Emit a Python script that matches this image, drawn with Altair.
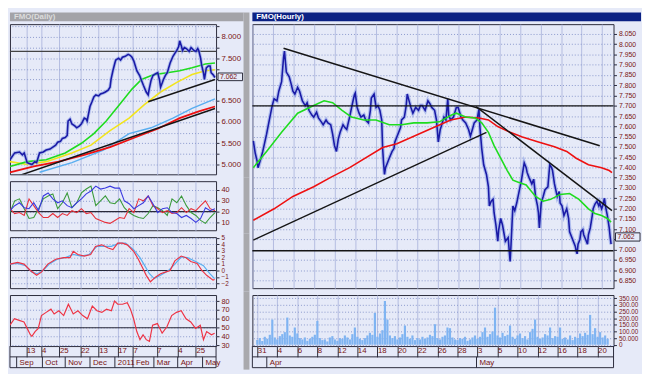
import json
import altair as alt
import pandas as pd

# ================= hourly window (right) =================
r_day = [0.09,0.28,0.46,0.55,0.83,1.01,1.38,1.65,1.93,2.11,
         2.39,2.57,2.84,3.03,3.12,3.30,3.58,3.76,3.94,4.13,
         4.40,4.59,4.86,5.14,5.32,5.50,5.78,5.96,6.24,6.42,
         6.70,6.88,7.16,7.34,7.61,7.80,7.98,8.17,8.35,8.53,
         8.81,8.99,9.17,9.45,9.72,9.91,10.00,10.18,10.37,10.55,
         10.83,11.01,11.28,11.47,11.56,11.83,12.02,12.20,12.39,12.57,
         12.66,12.75,12.84,12.94,13.12,13.30,13.58,13.76,13.85,14.04,
         14.22,14.40,14.50,14.77,14.95,15.05,15.23,15.41,15.60,15.87,
         16.15,16.33,16.51,16.79,17.06,17.25,17.43,17.71,17.89,18.07,
         18.26,18.35,18.62,18.81,18.99,19.08,19.27,19.54,19.82,20.00,
         20.28,20.46,20.73,21.01,21.19,21.38,21.56,21.83,22.02,22.11,
         22.29,22.48,22.75,22.94,23.03,23.21,23.39,23.49,23.67,23.85,
         23.94,24.13,24.31,24.59,24.86,24.95,25.05,25.14,25.23,25.32,
         25.50,25.69,25.96,26.15,26.42,26.61,26.70,26.88,27.16,27.34,
         27.52,27.71,27.80,27.89,27.98,28.07,28.26,28.44,28.72,28.90,
         29.08,29.17,29.36,29.63,29.82,29.91,30.09,30.28,30.55,30.73,
         30.83,31.01,31.19,31.38,31.47,31.56,31.65,31.83,31.93,32.11,
         32.20,32.39,32.57,32.66,32.84,33.03,33.12,33.30,33.49,33.67,
         33.76,33.94,34.04,34.22,34.31,34.50,34.68,34.77,34.86]
r_close = [7.529,7.469,7.431,7.399,7.445,7.478,7.562,7.631,7.701,7.734,
           7.724,7.771,7.817,7.934,7.966,7.864,7.841,7.808,7.771,7.757,
           7.790,7.771,7.724,7.701,7.715,7.678,7.655,7.645,7.669,7.641,
           7.622,7.608,7.631,7.617,7.608,7.562,7.506,7.478,7.538,7.571,
           7.608,7.594,7.585,7.645,7.710,7.752,7.762,7.692,7.664,7.645,
           7.655,7.631,7.617,7.678,7.738,7.757,7.692,7.701,7.678,7.631,
           7.492,7.422,7.366,7.399,7.422,7.445,7.478,7.492,7.524,7.548,
           7.571,7.594,7.631,7.645,7.701,7.757,7.724,7.692,7.664,7.692,
           7.678,7.701,7.701,7.678,7.724,7.710,7.692,7.678,7.631,7.524,
           7.585,7.599,7.645,7.631,7.734,7.655,7.631,7.645,7.692,7.692,
           7.645,7.631,7.617,7.585,7.552,7.585,7.617,7.631,7.683,7.599,
           7.492,7.413,7.366,7.306,7.213,7.236,7.245,7.180,7.120,7.041,
           7.097,7.152,7.120,7.041,7.059,7.003,6.943,7.027,7.120,7.213,
           7.190,7.227,7.292,7.338,7.422,7.399,7.376,7.352,7.320,7.343,
           7.259,7.213,7.180,7.106,7.166,7.227,7.259,7.292,7.306,7.413,
           7.399,7.385,7.320,7.259,7.283,7.227,7.213,7.166,7.199,7.152,
           7.087,7.064,7.041,7.017,6.994,6.980,7.027,7.050,7.087,7.097,
           7.073,7.050,7.027,7.073,7.106,7.166,7.199,7.222,7.236,7.213,
           7.227,7.199,7.213,7.250,7.213,7.166,7.106,7.064,7.027]
r_green_day = [0.09,1.38,2.84,4.40,5.96,6.97,7.80,8.72,9.63,10.83,
               12.02,13.30,14.50,15.69,16.97,18.17,19.36,19.82,20.73,21.65,
               22.29,22.94,23.49,24.13,24.77,25.32,25.78,26.61,27.52,28.26,
               28.99,29.91,30.83,31.74,32.66,33.30,33.94,34.50,34.86]
r_green = [7.399,7.478,7.571,7.664,7.701,7.724,7.715,7.678,7.645,7.631,
           7.631,7.608,7.608,7.617,7.617,7.622,7.655,7.664,7.645,7.641,
           7.617,7.571,7.506,7.445,7.385,7.338,7.329,7.315,7.259,7.236,
           7.245,7.269,7.273,7.245,7.199,7.176,7.166,7.152,7.134]
r_red_day = [0.09,2.11,3.94,5.96,7.61,9.45,12.66,14.04,16.79,19.27,20.73,22.02,
             22.94,23.85,25.05,26.24,27.80,29.36,30.55,31.47,32.66,33.94,34.68,34.95]
r_red = [7.143,7.199,7.259,7.306,7.352,7.399,7.497,7.515,7.576,7.631,7.645,7.641,
         7.631,7.599,7.571,7.548,7.524,7.501,7.478,7.445,7.413,7.399,7.385,7.375]
r_trend_id = ["a", "a", "b", "b", "c", "c"]
r_trend_day = [3.03, 33.76, 21.74, 34.95, 0.09, 22.75]
r_trend_val = [7.980, 7.506, 7.696, 7.190, 7.047, 7.571]
r_levels = [7.700, 6.995]
r_last = [7.062]
r_vol = [35, 50, 28, 60, 45, 75, 190, 55, 40, 65,
         80, 95, 205, 70, 60, 130, 85, 50, 40, 55,
         30, 45, 60, 75, 180, 50, 35, 40, 25, 55,
         65, 40, 30, 50, 45, 70, 55, 40, 80, 130,
         60, 45, 35, 50, 70, 90, 75, 240, 60, 85,
         110, 330, 190, 70, 50, 65, 40, 55, 80, 145,
         60, 45, 70, 35, 50, 40, 60, 45, 55, 75,
         65, 155, 50, 40, 60, 70, 130, 125, 55, 40,
         35, 50, 45, 60, 30, 40, 55, 70, 45, 60,
         95, 130, 60, 80, 100, 280, 70, 55, 90, 65,
         75, 145, 60, 45, 70, 85, 50, 65, 40, 95,
         120, 190, 60, 45, 55, 80, 70, 130, 50, 65,
         60, 130, 45, 55, 40, 70, 35, 60, 50, 85,
         65, 90, 75, 225, 80, 125, 60, 95, 55, 70,
         45]
r_yticks = [6.85, 6.90, 6.95, 7.00, 7.05, 7.10, 7.15, 7.20, 7.25, 7.30, 7.35, 7.40, 7.45,
            7.50, 7.55, 7.60, 7.65, 7.70, 7.75, 7.80, 7.85, 7.90, 7.95, 8.00, 8.05]
r_xticks = [0, 2, 4, 6, 8, 10, 12, 14, 16, 18, 20, 22, 24, 26, 28, 30, 32, 34]
r_xlabels = ["31", "4", "6", "8", "12", "14", "18", "20", "22", "26", "28",
             "3", "5", "10", "12", "16", "18", "20"]
r_vticks = [0, 8, 16, 24, 32, 40, 48, 56, 64, 72, 80, 88, 96, 104, 112, 120, 128, 136]
r_vol_yticks = [0, 50, 100, 150, 200, 250, 300, 350]
r_months = ["Apr", "May"]
r_month_bar = [3.8, 87.6]

# ================= daily window (left) =================
l_day = [0,4.3,8.7,11.3,13.0,15.7,20.0,22.6,24.3,27.0,
         30.4,33.0,36.5,39.1,41.7,43.5,46.1,47.8,50.4,52.2,
         53.0,54.8,56.5,59.1,60.9,63.5,65.2,67.8,69.6,70.4,
         73.0,74.8,76.5,78.3,80.9,82.6,85.2,87.0,89.6,91.3,
         92.2,93.9,95.7,96.5,99.1,100.9,102.6,105.2,107.8,109.6,
         111.3,113.0,115.7,118.3,120.0,121.7,124.3,126.1,127.0,128.7,
         130.4,133.0,134.8,136.5,137.4,139.1,140.0,141.7,143.5,146.1,
         148.7,150.4,152.2,153.9,154.8,156.5,157.4,159.1,160.9,163.5,
         165.2,166.1,167.8,169.6,171.3,172.2,173.9,174.8,176.5,177.4,
         179.1,180.9,182.6,183.5,185.2,187.0]
l_close = [5.114,5.273,5.295,5.227,5.273,5.045,5.000,5.068,5.045,5.273,
           5.295,5.341,5.364,5.409,5.455,5.523,5.545,5.614,5.636,5.682,
           6.023,6.068,5.955,5.909,5.864,5.909,5.955,6.091,6.068,6.023,
           6.364,6.477,6.591,6.636,6.614,6.659,6.682,6.705,6.750,6.818,
           7.000,7.205,7.386,7.455,7.500,7.455,7.523,7.545,7.591,7.568,
           7.523,7.432,7.205,7.091,6.977,6.864,6.705,6.636,6.773,6.977,
           7.091,7.136,7.159,6.977,6.818,6.932,7.000,7.091,7.159,7.386,
           7.545,7.614,7.682,7.773,7.909,7.773,7.682,7.750,7.727,7.659,
           7.750,7.727,7.682,7.659,7.727,7.682,7.500,7.341,7.159,7.000,
           7.273,7.318,7.318,7.159,7.114,7.045]
l_green_day = [0,15.7,33.0,50.4,65.2,76.5,87.8,100.0,111.3,120.0,131.3,143.5,154.8,166.1,178.3,187.0]
l_green = [4.955,5.068,5.114,5.273,5.500,5.727,6.023,6.409,6.773,7.000,7.114,7.159,7.205,7.273,7.364,7.386]
l_yellow_day = [0,15.7,33.0,56.5,73.9,91.3,108.7,122.6,137.4,152.2,166.1,178.3,187.0]
l_yellow = [5.068,5.000,5.068,5.273,5.455,5.795,6.091,6.409,6.705,6.932,7.114,7.205,7.227]
l_red_day = [0,21.7,44.3,67.8,91.3,113.9,134.8,154.8,172.2,187.0]
l_red = [4.818,4.955,5.068,5.227,5.409,5.636,5.841,6.091,6.250,6.364]
l_lblue_day = [27.0,56.5,85.2,108.7,128.7,148.7,166.1,187.0]
l_lblue = [4.818,5.045,5.341,5.727,5.864,6.091,6.318,6.545]
l_trend_id = ["a", "a", "b", "b"]
l_trend_day = [7.0, 187.0, 126.1, 187.0]
l_trend_val = [4.727, 6.318, 6.477, 7.000]
l_level = [7.66]
l_last = [7.062]
l_yticks = [5.0, 5.25, 5.5, 5.75, 6.0, 6.25, 6.5, 6.75, 7.0, 7.25, 7.5, 7.75, 8.0, 8.25]
l_xticks = [14.8, 28.7, 45.2, 64.3, 80.9, 98.3, 112.2, 133.9, 153.0, 169.6]
l_xlabels = ["13", "4", "25", "22", "13", "17", "7", "7", "4", "25"]
l_months = ["Sep", "Oct", "Nov", "Dec", "2011", "Feb", "Mar", "Apr", "May"]
l_month_day = [6.1, 29.6, 50.4, 73.0, 95.7, 112.2, 131.3, 153.0, 175.7]

osc_day = [0,4.3,8.7,13.0,17.4,21.7,26.1,30.4,34.8,39.1,43.5,47.8,52.2,56.5,60.9,65.2,
           69.6,73.9,78.3,82.6,87.0,91.3,95.7,100.0,104.3,108.7,113.0,117.4,121.7,126.1,
           130.4,134.8,139.1,143.5,147.8,152.2,156.5,160.9,165.2,169.6,173.9,178.3,182.6,187.0]
dmi_blue = [20.9,25.5,28.2,23.6,22.7,28.2,20.9,34.5,37.3,31.8,28.2,30.0,25.5,23.6,28.2,31.8,
            36.4,39.1,43.6,40.9,41.8,43.6,41.8,41.8,30.0,27.3,22.7,25.5,28.2,34.5,
            27.3,19.1,22.7,23.6,19.1,18.2,14.5,16.4,13.6,10.0,13.6,23.6,20.9,22.7]
dmi_green = [19.1,30.0,31.8,22.7,13.6,14.5,22.7,31.8,34.5,36.4,22.7,28.2,37.3,23.6,28.2,37.3,
             40.9,43.6,25.5,30.0,34.5,28.2,27.3,31.8,23.6,19.1,16.4,14.5,13.6,18.2,
             25.5,23.6,20.9,16.4,31.8,28.2,34.5,25.5,19.1,16.4,11.8,9.1,14.5,19.1]
dmi_red = [22.7,18.2,19.1,16.4,31.8,25.5,19.1,14.5,14.5,18.2,14.5,18.2,16.4,20.9,19.1,22.7,
           18.2,19.1,13.6,11.8,10.0,9.1,11.8,14.5,13.6,22.7,19.1,31.8,30.0,34.5,
           25.5,22.7,19.1,20.9,18.2,19.1,23.6,19.1,22.7,20.9,25.5,30.0,22.7,20.9]
macd_day = [0,7.0,12.8,18.6,24.3,28.7,34.5,41.7,49.0,54.8,57.7,62.0,67.8,73.6,78.0,83.8,
            89.6,93.9,98.3,102.6,107.0,112.8,117.1,121.4,124.3,128.1,133.0,137.4,141.7,146.1,
            150.4,156.2,160.6,164.9,170.7,175.1,179.4,185.2,186.7]
macd = [0.98,1.23,0.98,0,-0.74,-0.25,0.98,1.72,1.96,1.96,2.94,2.45,2.21,2.45,3.68,3.92,
        3.43,3.19,4.17,4.17,3.92,2.94,1.72,0.25,-0.74,-1.72,-0.98,-0.49,-0.25,0,
        1.47,2.21,1.96,1.37,1.08,0,-0.74,-1.47,-1.37]
sig_day = [0,7.0,14.2,20.0,24.9,30.1,35.9,43.2,50.4,57.7,64.9,72.2,79.4,86.7,92.5,99.7,
           105.5,112.8,118.6,122.9,127.2,131.6,137.4,144.6,150.4,156.2,162.0,169.3,176.5,182.3,186.7]
macd_sig = [0.98,1.08,0.74,-0.25,-0.49,0,0.98,1.72,1.96,2.45,2.21,2.45,3.68,3.68,3.68,4.17,
            4.17,3.19,1.96,0.74,-0.49,-1.23,-0.74,0,0.98,2.06,1.96,1.37,0.74,-0.49,-1.23]
rsi_day = [0,4.1,8.4,12.8,15.7,18.6,20.0,22.9,25.8,28.7,33.0,37.4,40.3,44.6,49.0,53.3,
           57.7,62.0,66.4,70.7,75.1,79.4,83.8,88.1,92.5,95.4,98.3,102.6,107.0,109.9,
           112.8,115.7,118.6,121.4,124.3,127.2,130.1,134.5,138.8,143.2,147.5,151.9,156.2,
           160.6,164.9,169.3,173.6,176.5,179.4,183.8,186.7]
rsi = [52.9,60.1,58.3,56.5,49.3,42.1,40.3,45.7,49.3,63.7,67.3,70.9,65.5,69.1,63.7,76.4,
       65.5,69.1,63.7,60.1,74.5,69.1,67.3,70.9,69.1,80.0,76.4,76.4,78.2,70.9,
       60.1,45.7,36.6,42.1,36.6,34.8,52.9,54.7,43.9,51.1,63.7,67.3,69.1,60.1,56.5,
       49.3,52.9,36.6,45.7,42.1,43.9]

# ================= styles =================
BG = "#e6eaf8"
FRAME = "#2a2a3a"
GRIDX = "#b4bce0"
GRIDY = "#8a98cc"
TXT = "#7a1414"
FONT = "Liberation Sans"
BLUE = "#1a1aa6"
PALE = "#8a9ee8"
GREEN = "#1fdc1f"
RED = "#ee1111"
YELLOW = "#f2e41c"
LBLUE = "#58aef0"
BLACK = "#151515"
GREY = "#a9a9ad"

LW, RW = 210, 368
LHP, LHA, LHM, LHR = 153, 50, 52, 52
RHP, RHV = 269, 52
GAP = 7
ONE = pd.DataFrame({"k": [0]})


def xaxis(ticks, labels=None):
    if labels is None:
        return alt.Axis(values=ticks, grid=True, gridColor=GRIDX, labels=False,
                        ticks=False, domain=False, title=None)
    expr = f"' ' + {json.dumps(labels)}[indexof({json.dumps(ticks)}, datum.value)]"
    return alt.Axis(values=ticks, grid=True, gridColor=GRIDX, labelExpr=expr,
                    ticks=True, tickSize=11, tickColor=FRAME, labelAlign="left",
                    labelBaseline="top", labelPadding=-10, labelColor=TXT,
                    labelFont=FONT, labelFontSize=8, labelOverlap=False,
                    labelFlush=False, domain=False, title=None)


def yaxis(ticks, expr=None, fmt=".3f", size=8):
    kw = dict(values=ticks, orient="right", grid=True, gridColor=GRIDY, gridDash=[1, 2],
              tickSize=3, tickColor=FRAME, labelColor=TXT, labelFont=FONT,
              labelFontSize=size, labelPadding=2, domain=False, title=None,
              labelOverlap=False, labelFlush=False)
    if expr:
        kw["labelExpr"] = expr
    else:
        kw["format"] = fmt
    return alt.Axis(**kw)


def enc_x(field, sc, ax):
    return alt.X(f"{field}:Q", scale=sc, axis=ax)


def enc_y(field, sc, ax):
    return alt.Y(f"{field}:Q", scale=sc, axis=ax)


def line(frame, xf, yf, X, Y, color, w, opacity=1.0):
    return alt.Chart(frame).mark_line(color=color, strokeWidth=w, opacity=opacity,
                                      clip=True).encode(x=enc_x(xf, *X), y=enc_y(yf, *Y))


def title_bar(W, text, fill, color):
    bar = alt.Chart(ONE).mark_rect(color=fill).encode(
        x=alt.value(0), x2=alt.value(W), y=alt.value(-12), y2=alt.value(-3))
    txt = alt.Chart(pd.DataFrame({"t": [text]})).mark_text(
        align="left", baseline="middle", color=color, fontSize=8, fontWeight="bold",
        font=FONT).encode(x=alt.value(4), y=alt.value(-7.5), text="t:N")
    return [bar, txt]


def strip(y1, y2):
    return alt.Chart(ONE).mark_rect(color=GREY).encode(
        x=alt.value(LW + 28), x2=alt.value(LW + 34), y=alt.value(y1), y2=alt.value(y2))


def price_box(vals, W, Y, half):
    frame = pd.DataFrame({"v": vals})
    box = alt.Chart(frame).transform_calculate(
        top=f"datum.v + {half}", bot=f"datum.v - {half}").mark_rect(
        fill=BG, stroke=FRAME, strokeWidth=1).encode(
        x=alt.value(W + 2), x2=alt.value(W + 27), y=enc_y("top", *Y), y2="bot:Q")
    txt = alt.Chart(frame).mark_text(align="left", baseline="middle", fontSize=7,
                                     color=TXT, font=FONT).encode(
        x=alt.value(W + 4), y=enc_y("v", *Y), text=alt.Text("v:Q", format=".3f"))
    return [box, txt]


def axis_rows(W, H, X, names, pos):
    md = pd.DataFrame({"m": names, "p": pos})
    out = []
    for yy in (H + 11, H + 22):
        out.append(alt.Chart(ONE).mark_rule(color=FRAME).encode(
            x=alt.value(0), x2=alt.value(W), y=alt.value(yy)))
    for xx in (0, W):
        out.append(alt.Chart(ONE).mark_rule(color=FRAME).encode(
            x=alt.value(xx), y=alt.value(H), y2=alt.value(H + 22)))
    out.append(alt.Chart(md).mark_rule(color=FRAME).encode(
        x=enc_x("p", *X), y=alt.value(H + 11), y2=alt.value(H + 22)))
    out.append(alt.Chart(md).mark_text(align="left", baseline="top", dx=3, fontSize=8,
                                       color=TXT, font=FONT).encode(
        x=enc_x("p", *X), y=alt.value(H + 13), text="m:N"))
    return out


# ================= right window =================
XR_s = alt.Scale(domain=[0, 35.1], nice=False, zero=False)
XR = (XR_s, xaxis(r_xticks))
r_expr = "abs(datum.value - 7.05) < 0.001 ? '' : format(datum.value, '.3f')"
YR = (alt.Scale(domain=[6.813, 8.097], nice=False, zero=False),
      yaxis(r_yticks, expr=r_expr, size=7))

rp = pd.DataFrame({"d": r_day, "v": r_close})
rg = pd.DataFrame({"d": r_green_day, "v": r_green})
rr = pd.DataFrame({"d": r_red_day, "v": r_red})
rt = pd.DataFrame({"id": r_trend_id, "d": r_trend_day, "v": r_trend_val})

r_trend = alt.Chart(rt).mark_line(color=BLACK, strokeWidth=1.5, clip=True).encode(
    x=enc_x("d", *XR), y=enc_y("v", *YR), detail="id:N")
r_lvl = alt.Chart(pd.DataFrame({"v": r_levels})).mark_rule(color=BLACK, strokeWidth=1.3).encode(
    y=enc_y("v", *YR))

right_price = alt.layer(
    *title_bar(RW + 28, "FMO(Hourly)", "#0b2184", "white"),
    line(rp, "d", "v", XR, YR, PALE, 4, 0.6),
    line(rp, "d", "v", XR, YR, BLUE, 1.6),
    line(rr, "d", "v", XR, YR, RED, 1.6),
    line(rg, "d", "v", XR, YR, GREEN, 1.6),
    r_trend, r_lvl,
    *price_box(r_last, RW, YR, 0.02),
).properties(width=RW, height=RHP)

XV = (alt.Scale(domain=[0, 140.4], nice=False, zero=False), xaxis(r_vticks, r_xlabels))
vol_expr = "datum.value == 0 ? '0' : (datum.value == 50 ? '50.000' : format(datum.value, '.2f'))"
YV = (alt.Scale(domain=[-10, 375], nice=False, zero=False),
      yaxis(r_vol_yticks, expr=vol_expr, size=6.5))
vdf = pd.DataFrame({"i": list(range(len(r_vol))), "vol": r_vol})
right_vol = alt.layer(
    alt.Chart(vdf).mark_bar(size=2.2, color="#7fb4f2").encode(
        x=enc_x("i", *XV), y=enc_y("vol", *YV)),
    *axis_rows(RW, RHV, XV, r_months, r_month_bar),
).properties(width=RW, height=RHV)

right = alt.vconcat(right_price, right_vol, spacing=GAP, bounds="flush")

# ================= left window =================
XL_s = alt.Scale(domain=[0, 188], nice=False, zero=False)
XL = (XL_s, xaxis(l_xticks))
l_expr = "datum.value % 0.5 == 0 && datum.value != 7 ? format(datum.value, '.3f') : ''"
YL = (alt.Scale(domain=[4.77, 8.30], nice=False, zero=False), yaxis(l_yticks, expr=l_expr))

lp = pd.DataFrame({"d": l_day, "v": l_close})
lt = pd.DataFrame({"id": l_trend_id, "d": l_trend_day, "v": l_trend_val})
left_price = alt.layer(
    *title_bar(LW + 28, "FMO(Daily)", "#a3a3a8", "#dcdcdc"),
    strip(-12, LHP + 3.5),
    line(pd.DataFrame({"d": l_lblue_day, "v": l_lblue}), "d", "v", XL, YL, LBLUE, 1.4),
    line(pd.DataFrame({"d": l_red_day, "v": l_red}), "d", "v", XL, YL, RED, 1.8),
    line(pd.DataFrame({"d": l_yellow_day, "v": l_yellow}), "d", "v", XL, YL, YELLOW, 1.6),
    line(pd.DataFrame({"d": l_green_day, "v": l_green}), "d", "v", XL, YL, GREEN, 1.6),
    alt.Chart(lt).mark_line(color=BLACK, strokeWidth=1.5, clip=True).encode(
        x=enc_x("d", *XL), y=enc_y("v", *YL), detail="id:N"),
    alt.Chart(pd.DataFrame({"v": l_level})).mark_rule(color="#444", strokeWidth=1.5).encode(
        y=enc_y("v", *YL)),
    line(lp, "d", "v", XL, YL, PALE, 3.5, 0.6),
    line(lp, "d", "v", XL, YL, BLUE, 1.6),
    *price_box(l_last, LW, YL, 0.09),
).properties(width=LW, height=LHP)

YA = (alt.Scale(domain=[2.7, 48.2], nice=False, zero=False),
      yaxis([10, 20, 30, 40], fmt="d", size=7.5))
od = pd.DataFrame({"d": osc_day, "b": dmi_blue, "g": dmi_green, "r": dmi_red})
left_adx = alt.layer(
    strip(-3.5, LHA + 3.5),
    alt.Chart(pd.DataFrame({"v": [20]})).mark_rule(color=FRAME, strokeWidth=1.2).encode(
        y=enc_y("v", *YA)),
    line(od, "d", "g", XL, YA, "#3a9a3a", 1.1),
    line(od, "d", "r", XL, YA, "#e8303a", 1.1),
    line(od, "d", "b", XL, YA, "#3a3ae0", 1.1),
).properties(width=LW, height=LHA)

YM = (alt.Scale(domain=[-2.7, 5.1], nice=False, zero=False),
      yaxis([-2, -1, 0, 1, 2, 3, 4, 5], fmt="d", size=6.5))
left_macd = alt.layer(
    strip(-3.5, LHM + 3.5),
    alt.Chart(pd.DataFrame({"v": [0]})).mark_rule(color=FRAME, strokeWidth=1.2).encode(
        y=enc_y("v", *YM)),
    line(pd.DataFrame({"d": sig_day, "v": macd_sig}), "d", "v", XL, YM, LBLUE, 1.2),
    line(pd.DataFrame({"d": macd_day, "v": macd}), "d", "v", XL, YM, "#ee3344", 1.2),
).properties(width=LW, height=LHM)

XLB = (XL_s, xaxis(l_xticks, l_xlabels))
YRS = (alt.Scale(domain=[29.4, 86.8], nice=False, zero=False),
       yaxis([30, 40, 50, 60, 70, 80], fmt="d", size=7.5))
left_rsi = alt.layer(
    strip(-3.5, LHR + 24),
    alt.Chart(pd.DataFrame({"v": [50]})).mark_rule(color=FRAME, strokeWidth=1.2).encode(
        y=enc_y("v", *YRS)),
    line(pd.DataFrame({"d": rsi_day, "v": rsi}), "d", "v", XLB, YRS, "#ee3344", 1.2),
    *axis_rows(LW, LHR, XLB, l_months, l_month_day),
).properties(width=LW, height=LHR)

left = alt.vconcat(left_price, left_adx, left_macd, left_rsi, spacing=GAP, bounds="flush")

chart = alt.hconcat(left, right, spacing=0).properties(
    padding={"left": 0, "top": 0, "right": 0, "bottom": 0}
).configure(background=BG).configure_view(
    fill=BG, stroke=FRAME, strokeWidth=1
)

chart.save("out.html", embed_options={"renderer": "svg", "actions": False})
